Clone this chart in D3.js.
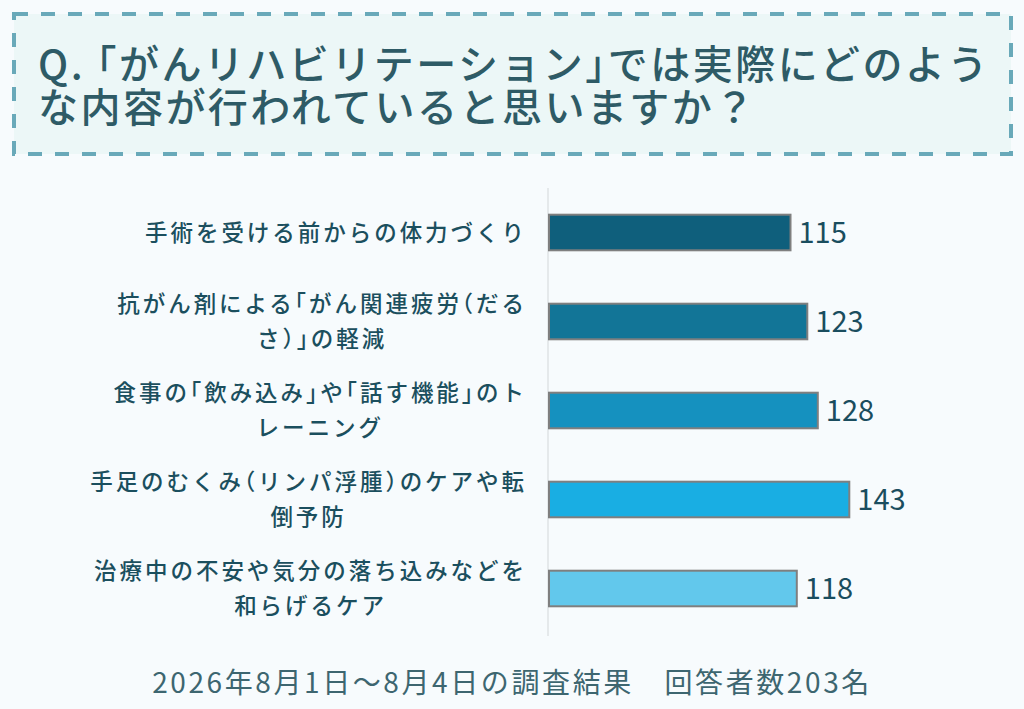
<!DOCTYPE html>
<html>
<head>
<meta charset="utf-8">
<script src="https://cdn.jsdelivr.net/npm/d3@7"></script>
<style>
  body { margin: 0; background: #f7fbfd; }
  svg { display: block; font-family: "Noto Sans CJK JP", "Noto Sans", sans-serif; }
  .narrow { font-feature-settings: "halt"; }
</style>
</head>
<body>
<div id="chart-area"></div>
<script>
// data
let titleLines = ['Q. 「がんリハビリテーション」では実際にどのよう', 'な内容が行われていると思いますか？'];
let categories = [
  ['手術を受ける前からの体力づくり'],
  ['抗がん剤による「がん関連疲労（だる', 'さ）」の軽減'],
  ['食事の「飲み込み」や「話す機能」のト', 'レーニング'],
  ['手足のむくみ（リンパ浮腫）のケアや転', '倒予防'],
  ['治療中の不安や気分の落ち込みなどを', '和らげるケア']
];
let values = [115, 123, 128, 143, 118];
let colors = ['#0f5f7c', '#127597', '#1591bf', '#19aee3', '#62c8ec'];
let footnote = '2026年8月1日～8月4日の調査結果　回答者数203名';

let width = 1024;
let height = 709;

let svg = d3.select('#chart-area').append('svg')
  .attr('width', width)
  .attr('height', height);

svg.append('rect')
  .attr('width', width)
  .attr('height', height)
  .attr('fill', '#f7fbfd');

// brackets get half width, the rest stays full width
function setText(textSel) {
  textSel.each(function(d) {
    let str = typeof d === 'string' ? d : d.t;
    let parts = str.split(/([「」（）])/).filter(s => s.length);
    d3.select(this).selectAll('tspan')
      .data(parts)
      .enter()
      .append('tspan')
      .attr('class', p => /^[「」（）]$/.test(p) ? 'narrow' : null)
      .text(p => p);
  });
}

// spread letters so the first text reaches a wanted width
function fitSpacing(sel, targetW) {
  let node = sel.nodes()[0];
  let n = node.textContent.length;
  let w0 = node.getComputedTextLength();
  sel.attr('letter-spacing', (targetW - w0) / n);
}

// title box
svg.append('rect')
  .attr('x', 14)
  .attr('y', 14)
  .attr('width', 997)
  .attr('height', 140)
  .attr('fill', '#ecf7f7')
  .attr('stroke', '#69a9b9')
  .attr('stroke-width', 4)
  .attr('stroke-dasharray', '14 13');

let titles = svg.selectAll('.title')
  .data(titleLines)
  .enter()
  .append('text')
  .attr('class', 'title')
  .attr('x', 38)
  .attr('y', (d, i) => 79 + i * 43)
  .attr('font-size', 40)
  .attr('font-weight', 500)
  .attr('fill', '#2e5b66')
  .call(setText);
fitSpacing(titles, 952);

let keys = categories.map(d => d.join(''));

let y = d3.scaleBand()
  .domain(keys)
  .range([188, 633])
  .paddingInner(0.6)
  .paddingOuter(0.3);

let x = d3.scaleLinear()
  .domain([0, 150])
  .range([549, 864]);

// axis line
svg.append('line')
  .attr('x1', 548).attr('x2', 548)
  .attr('y1', 188).attr('y2', 636)
  .attr('stroke', '#dfe3e5')
  .attr('stroke-width', 1.5);

let rows = svg.selectAll('.row')
  .data(values)
  .enter()
  .append('g')
  .attr('class', 'row');

rows.append('rect')
  .attr('x', x(0))
  .attr('y', (d, i) => y(keys[i]))
  .attr('width', d => x(d) - x(0))
  .attr('height', y.bandwidth())
  .attr('fill', (d, i) => colors[i])
  .attr('stroke', '#7f7f7f')
  .attr('stroke-width', 2);

rows.append('text')
  .attr('x', d => x(d) + 8)
  .attr('y', (d, i) => y(keys[i]) + y.bandwidth() / 2 + 10)
  .attr('font-size', 29)
  .attr('fill', '#1a4d5e')
  .text(d => d);

// category labels: block right-aligned, lines centered inside it
let labelRight = 527;
let lineGap = 35;
let labels = svg.selectAll('.label')
  .data(categories)
  .enter()
  .append('g')
  .attr('class', 'label');

let labelTexts = labels.selectAll('text')
  .data((lines, i) => lines.map((t, j) => ({ t: t, j: j, n: lines.length, i: i })))
  .enter()
  .append('text')
  .attr('font-size', 22.5)
  .attr('font-weight', 500)
  .attr('fill', '#1b4f5e')
  .attr('text-anchor', 'middle')
  .attr('y', d => y(keys[d.i]) + y.bandwidth() / 2 + (d.j - (d.n - 1) / 2) * lineGap + 8)
  .call(setText);
fitSpacing(labelTexts, 382);

labels.each(function() {
  let texts = d3.select(this).selectAll('text');
  let maxW = d3.max(texts.nodes(), n => n.getComputedTextLength());
  texts.attr('x', labelRight - maxW / 2);
});

svg.append('text')
  .attr('x', width / 2)
  .attr('y', 693)
  .attr('text-anchor', 'middle')
  .attr('font-size', 28)
  .attr('letter-spacing', 2.6)
  .attr('fill', '#3d6670')
  .text(footnote);
</script>
</body>
</html>
